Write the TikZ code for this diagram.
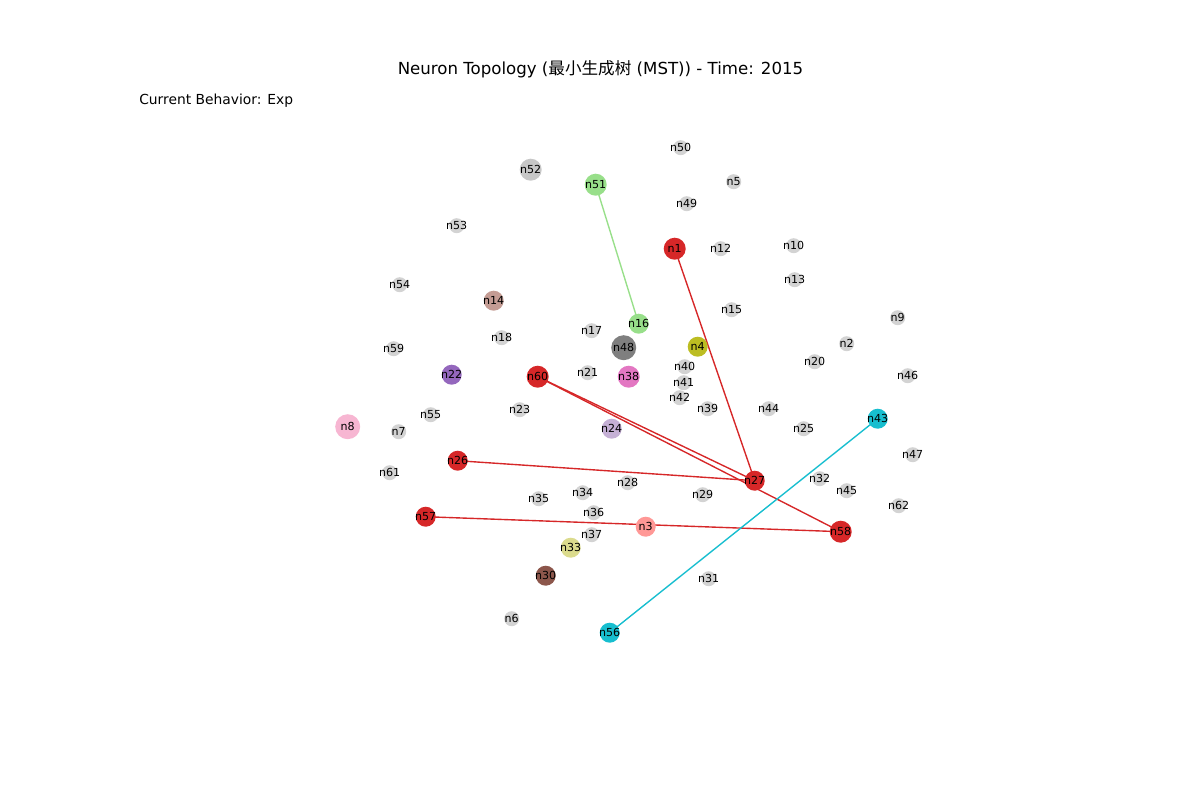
\documentclass[tikz,border=0pt]{standalone}
\usepackage{fontspec}
\setmainfont{DejaVu Sans}
\newfontfamily\cjk{Noto Sans CJK SC}
\usetikzlibrary{backgrounds}
\definecolor{cgray}{HTML}{D3D3D3}
\definecolor{cgray2}{HTML}{C7C7C7}
\definecolor{cred}{HTML}{D62728}
\definecolor{clgreen}{HTML}{98DF8A}
\definecolor{ccyan}{HTML}{17BECF}
\definecolor{cpink}{HTML}{F7B6D2}
\definecolor{cpurple}{HTML}{9467BD}
\definecolor{cbrownpink}{HTML}{C49C94}
\definecolor{colive}{HTML}{BCBD22}
\definecolor{cdgray}{HTML}{7F7F7F}
\definecolor{cmag}{HTML}{E377C2}
\definecolor{clav}{HTML}{C5B0D5}
\definecolor{clred}{HTML}{FF9896}
\definecolor{ckhaki}{HTML}{DBDB8D}
\definecolor{cbrown}{HTML}{8C564B}
\tikzset{
  nd/.style={circle, inner sep=0pt, draw=none, fill=#1},
  gn/.style={nd=cgray, minimum size=15*0.254mm},
  cn/.style={nd=#1, minimum size=20*0.254mm},
  bn/.style={nd=#1, minimum size=22*0.254mm},
  hn/.style={nd=#1, minimum size=25*0.254mm},
  lbl/.style={font=\fontsize{8}{9}\selectfont, text=black, inner sep=0pt},
  edge/.style={draw=#1, line width=1pt}
}
\begin{document}
\begin{tikzpicture}[x=0.254mm,y=-0.254mm]
\useasboundingbox (0,0) rectangle (1200,800);
\node[anchor=base, font=\fontsize{12}{14}\selectfont] (title) at (600.5,74) {Neuron Topology ({\cjk 最小生成树} (MST)) - Time: 2015};
\node[anchor=base west, font=\fontsize{10}{12}\selectfont, inner sep=0pt] (beh) at (139,104) {Current Behavior: Exp};
% nodes
\foreach \n/\x/\y in {n50/680/147, n5/733/181, n49/686/203, n53/456/225, n12/720/248, n10/793/245,
  n13/794/279, n54/399/284, n15/731/309, n9/897/317, n17/591/330, n18/501/337, n59/393/348,
  n2/846/343, n20/814/361, n40/684/366, n21/587/372, n46/907/375, n41/683/382, n42/679/397,
  n23/519/409, n39/707/408, n44/768/408, n55/430/414, n7/398/431, n25/803/428, n47/912/454,
  n61/389/472, n32/819/478, n28/627/482, n45/846/490, n35/538/498, n34/582/492, n29/702/494,
  n62/898/505, n36/593/512, n37/591/534, n31/708/578, n6/511/618}
  {\node[gn] (\n) at (\x+0.7,\y+0.7) {}; \node[lbl] at (\n) {\n};}
\foreach \n/\x/\y/\c/\s in {n52/530/169/cgray2/bn, n51/595/184/clgreen/bn, n1/674/248/cred/bn,
  n14/493/300/cbrownpink/cn, n16/638/323/clgreen/cn, n48/623/347/cdgray/hn, n4/697/346/colive/cn,
  n22/451/374/cpurple/cn, n60/537/376/cred/bn, n38/628/376/cmag/bn, n8/347/426/cpink/hn,
  n24/611/428/clav/cn, n43/877/418/ccyan/cn, n26/457/460/cred/cn, n27/754/480/cred/cn,
  n57/425/516/cred/cn, n3/645/526/clred/cn, n58/840/531/cred/bn, n33/570/547/ckhaki/cn,
  n30/545/575/cbrown/cn, n56/609/632/ccyan/cn}
  {\node[\s=\c] (\n) at (\x+0.7,\y+0.7) {}; \node[lbl] at (\n) {\n};}
% edges
\begin{pgfonlayer}{background}
\draw[edge=clgreen] (n51.center) -- (n16.center);
\draw[edge=cred] (n1.center) -- (n27.center);
\draw[edge=cred] (n60.center) -- (n27.center);
\draw[edge=cred] (n60.center) -- (n58.center);
\draw[edge=cred] (n26.center) -- (n27.center);
\draw[edge=cred] (n57.center) -- (n58.center);
\draw[edge=ccyan] (n43.center) -- (n56.center);
\end{pgfonlayer}
\end{tikzpicture}
\end{document}
